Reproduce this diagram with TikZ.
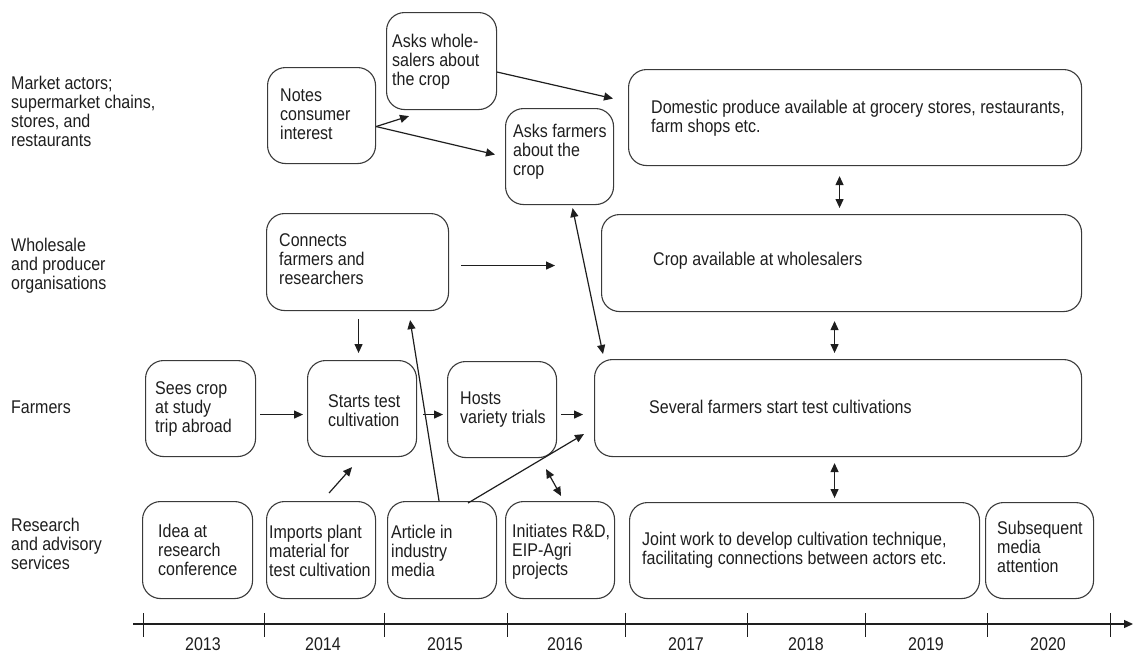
\documentclass[tikz,border=0pt]{standalone}
\usepackage{fontspec}
\setmainfont[FakeStretch=0.87]{Liberation Sans}
\usetikzlibrary{arrows.meta,calc}
\definecolor{boxline}{HTML}{3A3A3A}
\definecolor{ink}{HTML}{1E1E1E}
\tikzset{
  box/.style={draw=boxline, line width=1.1pt, rounded corners=18pt, inner sep=0pt, anchor=north west},
  txt/.style={text=ink, align=left, inner sep=0pt, anchor=base west, font=\fontsize{18.4}{19}\selectfont},
  yr/.style={text=ink, inner sep=0pt, anchor=base, font=\fontsize{18.4}{19}\selectfont},
  arr/.style={draw=ink, line width=1.2pt, -{Triangle[length=9pt,width=8pt]}},
  darr/.style={draw=ink, line width=1.2pt, {Triangle[length=9pt,width=8pt]}-{Triangle[length=9pt,width=8pt]}},
}
\newcommand{\mybox}[5]{% name, x, y, w, h
  \node[box, minimum width=#4pt, minimum height=#5pt] (#1) at (#2,#3) {};
}
\begin{document}
\begin{tikzpicture}[x=1pt,y=-1pt]
\useasboundingbox (0,0) rectangle (1133,653);

% row labels (anchor = baseline of last line)
\node[txt] (lab1) at (11,146) {Market actors;\\supermarket chains,\\stores, and\\restaurants};
\node[txt] (lab2) at (11,289) {Wholesale\\and producer\\organisations};
\node[txt] (lab3) at (11,413) {Farmers};
\node[txt] (lab4) at (11,569) {Research\\and advisory\\services};

% boxes
\mybox{notes}{267}{67}{108}{96}
\mybox{askw}{386}{12}{110}{97}
\mybox{askf}{505}{108}{108}{96}
\mybox{dom}{628}{69}{453}{96}
\mybox{conn}{266}{213}{182}{97}
\mybox{crop}{601}{214}{480}{97}
\mybox{sees}{145}{360}{110}{96}
\mybox{starts}{307}{360}{109}{96}
\mybox{hosts}{447}{361}{109}{96}
\mybox{several}{594}{359}{487}{97}
\mybox{idea}{142}{501}{110}{97}
\mybox{imports}{266}{501}{109}{97}
\mybox{article}{387}{501}{109}{97}
\mybox{init}{505}{501}{109}{97}
\mybox{joint}{629}{502}{350}{96}
\mybox{subs}{985}{502}{108}{96}

% box texts (anchor = baseline of last line)
\node[txt] (notes-t) at (280,139) {Notes\\consumer\\interest};
\node[txt] (askw-t) at (392,85) {Asks whole-\\salers about\\the crop};
\node[txt] (askf-t) at (513,175) {Asks farmers\\about the\\crop};
\node[txt] (dom-t) at (651,132) {Domestic produce available at grocery stores, restaurants,\\farm shops etc.};
\node[txt] (conn-t) at (279,284) {Connects\\farmers and\\researchers};
\node[txt] (crop-t) at (653,265) {Crop available at wholesalers};
\node[txt] (sees-t) at (155,432) {Sees crop\\at study\\trip abroad};
\node[txt] (starts-t) at (328,426) {Starts test\\cultivation};
\node[txt] (hosts-t) at (460,423) {Hosts\\variety trials};
\node[txt] (several-t) at (649,413) {Several farmers start test cultivations};
\node[txt] (idea-t) at (158,575) {Idea at\\research\\conference};
\node[txt] (imports-t) at (269,576) {Imports plant\\material for\\test cultivation};
\node[txt] (article-t) at (391,576) {Article in\\industry\\media};
\node[txt] (init-t) at (512,575) {Initiates R\&D,\\EIP-Agri\\projects};
\node[txt] (joint-t) at (642,564) {Joint work to develop cultivation technique,\\facilitating connections between actors etc.};
\node[txt] (subs-t) at (997,572) {Subsequent\\media\\attention};

% connectors
\draw[arr] ($(notes.east)+(0,11)$) -- ($(askw.south west)+(23,6)$);
\draw[arr] ($(notes.east)+(0,11)$) -- ($(askf.west)+(-10,-2)$);
\draw[arr] ($(askw.east)+(0,11)$) -- ($(dom.west)+(-15,-19)$);
\draw[darr] ($(dom.south)+(-15.5,10)$) -- ($(crop.north)+(-2,-6)$);
\draw[arr] ($(conn.east)+(12,3.5)$) -- ($(crop.west)+(-46,2.5)$);
\draw[darr] ($(crop.south)+(-7,9)$) -- ($(several.north)+(-3.5,-6)$);
\draw[darr] ($(askf.south)+(13,3)$) -- ($(several.north west)+(9,-5)$);
\draw[arr] ($(conn.south)+(1,8)$) -- ($(starts.north)+(-3.5,-7)$);
\draw[arr] ($(sees.east)+(4,6)$) -- ($(starts.west)+(-4,6)$);
\draw[arr] ($(starts.east)+(6,6)$) -- ($(hosts.west)+(-4,5)$);
\draw[arr] ($(hosts.east)+(4,5)$) -- ($(several.west)+(-11,6.5)$);
\draw[darr] ($(several.south)+(-3.5,6)$) -- ($(joint.north)+(30,-4)$);
\draw[arr] ($(imports.north)+(8,-8)$) -- ($(starts.south)+(-10,10)$);
\draw[arr] ($(article.north)+(-3,0)$) -- ($(conn.south east)+(-39,9)$);
\draw[arr] ($(article.north)+(26,2)$) -- ($(several.west)+(-10,26)$);
\draw[darr] ($(hosts.south)+(44,11)$) -- ($(init.north)+(1,-5)$);

% timeline
\coordinate (tl0) at (133,624);
\coordinate (tl1) at (1133,624);
\draw[draw=ink, line width=1.3pt, -{Triangle[length=9pt,width=8pt]}] (tl0) -- (tl1);
\foreach \x in {143,264,384,507,625,747,865,987,1110}
  \draw[draw=ink, line width=1pt] (\x,613) -- (\x,637);
\foreach \x/\y in {203/2013,323/2014,445/2015,565/2016,686/2017,806/2018,926/2019,1048/2020}
  \node[yr] (y\y) at (\x,650) {\y};
\end{tikzpicture}
\end{document}
